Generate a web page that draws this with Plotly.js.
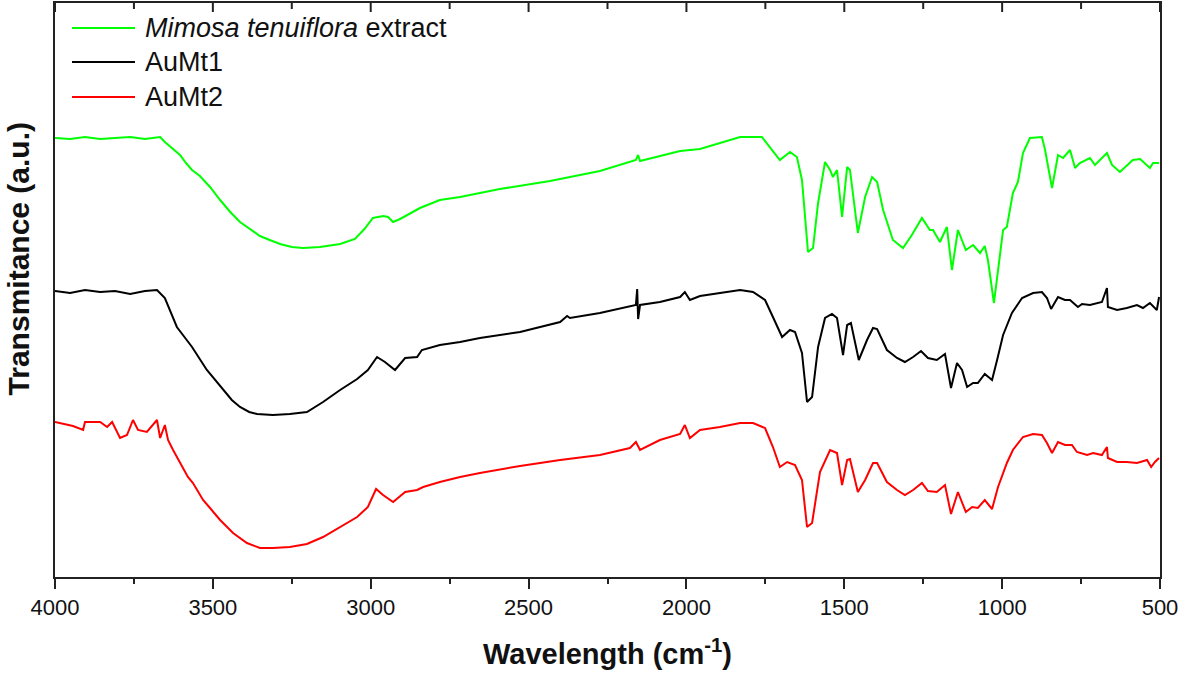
<!DOCTYPE html>
<html><head><meta charset="utf-8">
<script src="https://cdn.plot.ly/plotly-3.0.1.min.js"></script>
<style>html,body{margin:0;padding:0;background:#fff}</style>
</head><body><div id="chart" style="width:1181px;height:674px"></div>
<script>
// Wavenumbers (cm-1) and transmittance (a.u., offset stacked)
const mimosaWn = [4000,3952,3905,3857,3810,3762,3715,3667,3652,3630,3604,3585,3566,3541,3509,3477,3445,3414,3380,3351,3320,3287,3250,3214,3161,3097,3050,3020,2993,2960,2945,2929,2907,2875,2844,2781,2717,2654,2591,2432,2274,2160,2153,2147,2020,1957,1894,1830,1761,1735,1704,1672,1650,1634,1624,1615,1599,1583,1561,1545,1536,1523,1507,1491,1482,1457,1434,1412,1396,1377,1346,1314,1286,1254,1229,1219,1197,1175,1159,1140,1115,1092,1070,1055,1045,1026,997,985,966,950,934,912,874,864,842,823,807,785,769,754,722,706,668,652,627,605,586,563,532,522,503];
const mimosaT  = [439,438,440,438,439,440,438,440,435,429,422,414,407,401,390,377,365,355,347,341,337,333,330,329,330,333,338,348,359,361,360,355,358,364,369,377,380,384,388,396,406,417,422,416,426,428,434,440,440,430,417,425,420,397,357,325,329,374,415,407,400,407,360,410,407,344,380,400,395,367,337,329,342,359,347,347,335,350,307,347,327,332,324,331,317,274,347,350,384,395,424,439,440,427,389,422,419,427,409,414,419,412,424,412,405,412,417,418,409,414,414];

const aumt1Wn = [4000,3952,3905,3857,3810,3762,3715,3677,3652,3614,3590,3566,3519,3468,3440,3414,3385,3360,3310,3256,3202,3151,3097,3043,3009,2980,2955,2923,2891,2853,2838,2781,2717,2654,2527,2400,2378,2369,2274,2160,2156,2153,2147,2084,2020,2005,1989,1957,1830,1789,1751,1726,1697,1672,1656,1634,1618,1602,1583,1561,1539,1523,1504,1491,1479,1454,1428,1409,1396,1365,1333,1308,1282,1257,1235,1207,1181,1162,1143,1127,1111,1092,1077,1055,1032,1016,997,969,937,902,874,858,845,823,801,785,760,747,722,684,668,665,636,605,573,554,532,510,503];
const aumt1T  = [286,284,287,285,286,283,286,287,279,250,240,230,207,187,177,170,165,163,162,163,165,175,187,198,207,220,215,207,219,220,227,232,235,239,245,255,261,259,264,272,288,258,272,275,280,285,277,281,287,285,277,260,240,247,245,224,175,180,230,259,263,259,222,252,254,217,237,249,248,227,219,215,220,226,219,217,223,189,214,207,190,194,194,203,197,217,242,264,279,284,285,279,268,280,277,277,270,273,272,275,289,270,267,269,272,269,274,267,280];

const aumt2Wn = [4000,3943,3911,3905,3857,3835,3819,3794,3772,3753,3737,3709,3677,3667,3652,3642,3626,3604,3579,3563,3531,3509,3477,3436,3392,3351,3310,3256,3202,3151,3097,3043,3009,2983,2961,2929,2891,2853,2834,2781,2717,2654,2527,2400,2274,2179,2160,2147,2084,2020,2005,1989,1957,1894,1830,1789,1751,1726,1704,1681,1656,1634,1618,1602,1577,1545,1523,1507,1491,1482,1457,1434,1409,1396,1365,1333,1308,1282,1254,1235,1207,1181,1162,1140,1115,1095,1077,1055,1032,1013,985,966,934,902,874,858,842,823,801,779,763,731,712,684,668,665,636,605,573,541,528,516,503];
const aumt2T  = [155,151,147,155,155,150,155,139,142,157,147,145,157,139,152,137,127,114,100,94,77,69,57,44,34,29,29,30,33,40,50,60,70,88,82,75,85,87,90,95,100,104,111,117,122,129,135,127,137,143,152,139,147,150,154,154,149,130,110,115,112,97,50,54,105,127,124,92,117,118,85,97,114,114,95,87,82,87,94,86,85,92,63,85,65,70,69,77,68,90,114,127,140,143,142,134,124,135,132,132,125,122,124,122,130,119,115,115,114,117,110,115,119];

const seriesNames = ["Mimosa tenuiflora extract", "AuMt1", "AuMt2"];
const legendLabels = ["<i>Mimosa tenuiflora</i> extract", "AuMt1", "AuMt2"];
const seriesColors = ["#00ff00", "#000000", "#ff0000"];
const xTickVals = [4000, 3500, 3000, 2500, 2000, 1500, 1000, 500];
const xMinorVals = [3750, 3250, 2750, 2250, 1750, 1250, 750];

const xs = [mimosaWn, aumt1Wn, aumt2Wn];
const ys = [mimosaT, aumt1T, aumt2T];

const traces = xs.map((x, i) => ({
  x: x, y: ys[i], type: "scatter", mode: "lines", name: seriesNames[i],
  line: {color: seriesColors[i], width: 2}, showlegend: false
}));

const FONT = "Liberation Sans, Arial, Helvetica, sans-serif";
const AX = "#222";
const legY = [0.9564, 0.8972, 0.8362];
const shapes = legY.map((y, i) => ({
  type: "line", xref: "paper", yref: "paper", x0: 0.0154, x1: 0.0724, y0: y, y1: y,
  line: {color: seriesColors[i], width: 2}
}));
// inward ticks on the mirrored top axis, placed through the x scale
xTickVals.forEach(v => shapes.push({
  type: "line", xref: "x", yref: "paper", x0: v, x1: v, y0: 1, y1: 1 - 9 / 574,
  line: {color: AX, width: 2}
}));
xMinorVals.forEach(v => shapes.push({
  type: "line", xref: "x", yref: "paper", x0: v, x1: v, y0: 1, y1: 1 - 6 / 574,
  line: {color: AX, width: 2}
}));

const annotations = legY.map((y, i) => ({
  xref: "paper", yref: "paper", x: 0.0796, y: y, xanchor: "left", yanchor: "middle",
  text: legendLabels[i], showarrow: false, font: {family: FONT, size: 27, color: "#111"}
}));
annotations.push({
  xref: "paper", yref: "paper", x: -0.0335, y: 0.555, xanchor: "center", yanchor: "middle",
  text: "<b>Transmitance (a.u.)</b>", textangle: -90, showarrow: false,
  font: {family: FONT, size: 30, color: "#111"}
});

const layout = {
  width: 1181, height: 674,
  margin: {l: 55, r: 21, t: 3, b: 97, pad: 0},
  paper_bgcolor: "#fff", plot_bgcolor: "#fff",
  showlegend: false,
  font: {family: FONT, color: "#111"},
  xaxis: {
    range: [4000, 500], tickvals: xTickVals, ticks: "outside", ticklen: 10, tickwidth: 2, tickcolor: AX,
    showline: true, mirror: true, linewidth: 2, linecolor: AX, showgrid: false, zeroline: false,
    tickfont: {family: FONT, size: 22, color: "#111"},
    minor: {dtick: 250, ticks: "outside", ticklen: 5, tickwidth: 2, tickcolor: AX, showgrid: false},
    title: {text: "<b>Wavelength (cm<sup>-1</sup>)</b>", font: {family: FONT, size: 29, color: "#111"}, standoff: 24},
    automargin: false
  },
  yaxis: {
    range: [0, 574], showline: true, mirror: true, linewidth: 2, linecolor: AX,
    ticks: "", showticklabels: false, showgrid: false, zeroline: false,
    automargin: false
  },
  shapes: shapes,
  annotations: annotations
};

Plotly.newPlot("chart", traces, layout, {displayModeBar: false, staticPlot: true});
</script></body></html>
